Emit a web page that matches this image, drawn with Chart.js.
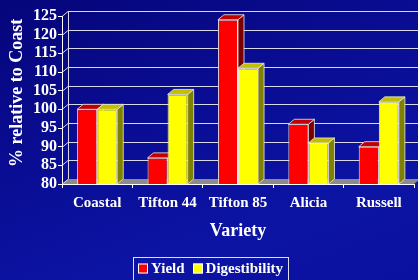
<!DOCTYPE html>
<html><head><meta charset="utf-8">
<script src="https://cdn.jsdelivr.net/npm/chart.js@4/dist/chart.umd.min.js"></script>
<style>
html,body{margin:0;padding:0;}
body{width:418px;height:280px;overflow:hidden;
background:linear-gradient(160deg,#05057a 0%,#0a0e96 45%,#0c14a4 75%,#0a10a0 100%);}
#wrap{position:relative;width:418px;height:280px;}
</style></head>
<body><div id="wrap"><canvas id="c" width="418" height="280"></canvas></div>
<script>
const categories = ['Coastal','Tifton 44','Tifton 85','Alicia','Russell'];
const yieldValues = [100, 87, 124, 96, 90];
const digestibilityValues = [100, 104, 111, 91, 102];
const seriesNames = ['Yield','Digestibility'];
const yMin = 80, yMax = 125, yStep = 5;
const xTitle = 'Variety';
const yTitle = '% relative to Coastal';

const DX = 6, DY = 5;
const FONT = '"Liberation Serif","Times New Roman",serif';
const faceColors = [
  {front:'#ff0000', top:'#c00000', side:'#7a0000'},
  {front:'#ffff00', top:'#c0c000', side:'#808000'}
];

const depthPlugin = {
  id:'depth',
  beforeDatasetsDraw(chart){
    const ctx = chart.ctx, a = chart.chartArea, ys = chart.scales.y;
    ctx.save();
    // floor
    ctx.fillStyle = '#8c8c8c';
    ctx.beginPath();
    ctx.moveTo(a.left, a.bottom); ctx.lineTo(a.right, a.bottom);
    ctx.lineTo(a.right+DX, a.bottom-DY); ctx.lineTo(a.left+DX, a.bottom-DY);
    ctx.closePath(); ctx.fill();
    // back wall grid
    ctx.strokeStyle = '#d8d8e8'; ctx.lineWidth = 1;
    for (let v = yMin; v <= yMax; v += yStep) {
      const py = Math.round(ys.getPixelForValue(v)) + 0.5;
      ctx.beginPath();
      ctx.moveTo(a.left, py); ctx.lineTo(a.left+DX, py-DY);
      if (v > yMin) ctx.lineTo(chart.width+10, py-DY);
      ctx.stroke();
    }
    ctx.beginPath();
    ctx.moveTo(a.left+DX+0.5, a.top-DY); ctx.lineTo(a.left+DX+0.5, a.bottom-DY);
    ctx.stroke();
    // tops and sides
    chart.data.datasets.forEach((ds, i) => {
      const meta = chart.getDatasetMeta(i);
      const c = faceColors[i];
      meta.data.forEach(el => {
        const l = el.x - el.width/2, r = el.x + el.width/2, t = el.y, b = Math.min(el.base, a.bottom);
        ctx.strokeStyle = '#e8e8e8'; ctx.lineWidth = 0.8;
        ctx.fillStyle = c.side;
        ctx.beginPath();
        ctx.moveTo(r, t); ctx.lineTo(r+DX, t-DY); ctx.lineTo(r+DX, b-DY); ctx.lineTo(r, b);
        ctx.closePath(); ctx.fill(); ctx.stroke();
        ctx.fillStyle = c.top;
        ctx.beginPath();
        ctx.moveTo(l, t); ctx.lineTo(r, t); ctx.lineTo(r+DX, t-DY); ctx.lineTo(l+DX, t-DY);
        ctx.closePath(); ctx.fill(); ctx.stroke();
      });
    });
    ctx.restore();
  },
  afterDraw(chart){
    const ctx = chart.ctx;
    ctx.save();
    // y axis title, clipped at top
    ctx.beginPath(); ctx.rect(0, 19, 40, 260); ctx.clip();
    ctx.translate(17, 167);
    ctx.rotate(-Math.PI/2);
    ctx.fillStyle = '#ffffff';
    ctx.font = 'bold 18px ' + FONT;
    ctx.textAlign = 'left'; ctx.textBaseline = 'middle';
    ctx.fillText(yTitle, 0, 0);
    ctx.restore();
    // legend
    ctx.save();
    ctx.font = 'bold 15px ' + FONT;
    const items = chart.data.datasets.map((ds,i)=>({label:ds.label, color:ds.backgroundColor, w:ctx.measureText(ds.label).width}));
    const box = 10, gap = 3, itemGap = 8, pad = 5;
    let total = items.reduce((s,it)=>s+box+gap+it.w,0) + itemGap*(items.length-1);
    const cx = 210.5;
    let x = cx - total/2;
    ctx.strokeStyle = '#e0e0f0'; ctx.lineWidth = 1;
    ctx.strokeRect(Math.round(x - pad)+0.5, 257.5, Math.round(total + pad*2), 30);
    const cy = 268.5;
    items.forEach(it => {
      ctx.fillStyle = it.color;
      ctx.fillRect(Math.round(x), cy-5, box, box);
      ctx.strokeStyle = '#ffffff';
      ctx.strokeRect(Math.round(x)+0.5, cy-4.5, box-1, box-1);
      ctx.fillStyle = '#ffffff';
      ctx.textAlign='left'; ctx.textBaseline='middle';
      ctx.fillText(it.label, x+box+gap, cy+1);
      x += box+gap+it.w+itemGap;
    });
    ctx.restore();
  }
};

new Chart(document.getElementById('c'), {
  type:'bar',
  data:{
    labels: categories,
    datasets:[
      {label:seriesNames[0], data:yieldValues, backgroundColor:faceColors[0].front, borderColor:'#e8e8e8', borderWidth:1},
      {label:seriesNames[1], data:digestibilityValues, backgroundColor:faceColors[1].front, borderColor:'#e8e8e8', borderWidth:1}
    ]
  },
  options:{
    responsive:false, animation:false,
    layout:{padding:{left:0, right:4, top:16, bottom:36}},
    datasets:{bar:{categoryPercentage:0.57, barPercentage:1}},
    plugins:{legend:{display:false}, tooltip:{enabled:false}},
    scales:{
      x:{
        grid:{drawOnChartArea:false, drawTicks:true, tickLength:4, color:'#ffffff', offset:true},
        border:{display:true, color:'#ffffff'},
        ticks:{color:'#ffffff', font:{family:FONT, size:15, weight:'bold'}, padding:6, maxRotation:0, autoSkip:false},
        title:{display:true, text:xTitle, color:'#ffffff', font:{family:FONT, size:18, weight:'bold'}, padding:{top:0, bottom:2}},
        afterFit(s){ s.height = 60; }
      },
      y:{
        min:yMin, max:yMax,
        grid:{drawOnChartArea:false, drawTicks:true, tickLength:4, color:'#ffffff'},
        border:{display:true, color:'#ffffff'},
        ticks:{stepSize:yStep, autoSkip:false, color:'#ffffff', font:{family:FONT, size:16, weight:'bold'}, padding:1},
        afterFit(s){ s.width = 62; }
      }
    }
  },
  plugins:[depthPlugin]
});
</script></body></html>
